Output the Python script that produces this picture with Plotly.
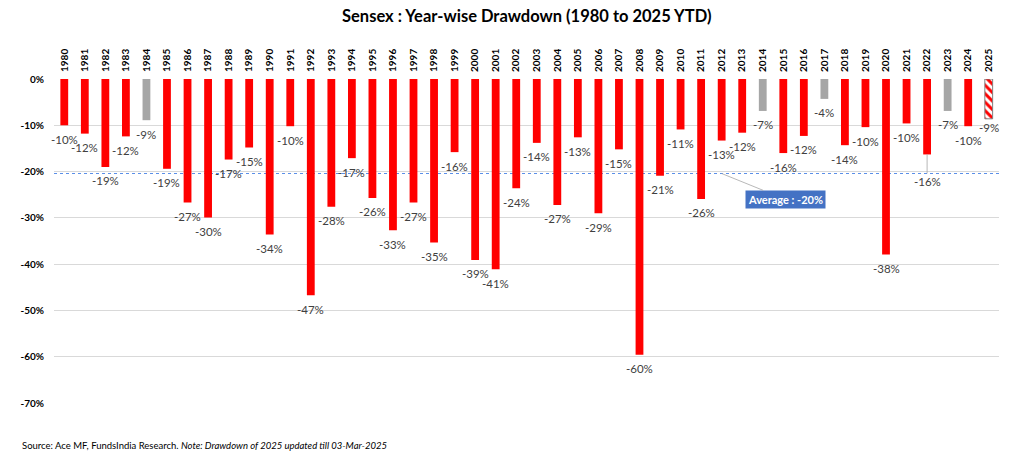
import plotly.graph_objects as go

years = [str(y) for y in range(1980, 2026)]
drawdown = [-10.0, -11.8, -19.0, -12.4, -8.9, -19.4, -26.7, -29.9, -17.4, -14.8,
            -33.6, -10.2, -46.7, -27.6, -17.1, -25.7, -32.7, -26.7, -35.3, -15.8,
            -39.1, -41.1, -23.6, -13.8, -27.2, -12.6, -29.0, -15.2, -59.6, -20.9,
            -10.9, -25.9, -13.3, -11.6, -6.9, -16.0, -12.3, -4.3, -14.3, -10.4,
            -37.9, -9.6, -16.3, -6.9, -10.2, -8.6]
grey_years = ["1984", "2014", "2017", "2023"]
ytd_year = "2025"
y_ticks = [0, -10, -20, -30, -40, -50, -60, -70]
y_ticklabels = ["0%", "-10%", "-20%", "-30%", "-40%", "-50%", "-60%", "-70%"]

RED = "#FF0000"
GREY = "#A6A6A6"
BLUE = "#4472C4"
DASH_BLUE = "#5B8FE8"
FONT = "Lato"

avg = sum(drawdown) / len(drawdown)

colors, shapes_p, lcol, lwid = [], [], [], []
for y in years:
    if y == ytd_year:
        colors.append(RED); shapes_p.append("\\"); lcol.append("#7F7F7F"); lwid.append(1)
    elif y in grey_years:
        colors.append(GREY); shapes_p.append(""); lcol.append(GREY); lwid.append(0)
    else:
        colors.append(RED); shapes_p.append(""); lcol.append(RED); lwid.append(0)

fig = go.Figure()
fig.add_trace(go.Bar(
    x=years, y=drawdown, width=0.38,
    marker=dict(color=colors, line=dict(color=lcol, width=lwid),
                pattern=dict(shape=shapes_p, fillmode="replace", fgcolor=RED,
                             bgcolor="white", size=6, solidity=0.5)),
    hoverinfo="x+y", showlegend=False,
))

annotations = []
for i, (y, v) in enumerate(zip(years, drawdown)):
    txt = f"{round(v):d}%"
    if y == "2022":
        annotations.append(dict(x=i, y=v, xref="x", yref="y", text=txt, showarrow=True,
                                arrowhead=0, arrowwidth=0.8, arrowcolor="#A6A6A6",
                                ax=0, ay=27, standoff=0,
                                font=dict(family=FONT, size=11.5, color="#404040")))
    else:
        annotations.append(dict(x=i, y=v, xref="x", yref="y", text=txt, showarrow=False,
                                yanchor="middle", yshift=-14 if y != ytd_year else -9,
                                font=dict(family=FONT, size=11.5, color="#404040")))

# average call-out: leader starts on the average line near 2012, box sits near 2015
annotations.append(dict(x=years.index("2012"), y=avg, xref="x", yref="y", axref="x", ayref="y",
                        ax=years.index("2015") + 0.1, ay=-26.0,
                        text=f"<b>Average : {round(avg):d}%</b>",
                        showarrow=True, arrowhead=0, arrowwidth=0.8, arrowcolor="#A6A6A6",
                        bgcolor=BLUE, borderpad=2,
                        font=dict(family=FONT, size=11, color="white")))

annotations.append(dict(x=0.5, y=1.0, xref="paper", yref="paper", yanchor="middle",
                        xanchor="center", text="<b>Sensex : Year-wise Drawdown (1980 to 2025 YTD)</b>",
                        showarrow=False, yshift=79 - 16,
                        font=dict(family=FONT, size=16.5, color="black")))
annotations.append(dict(x=0, y=0, xref="paper", yref="paper", xanchor="left", yanchor="middle",
                        xshift=20 - 54, yshift=-(445.5 - 403), showarrow=False,
                        text="Source: Ace MF, FundsIndia Research. <i>Note: Drawdown of 2025 updated till 03-Mar-2025</i>",
                        font=dict(family=FONT, size=9.5, color="black")))

fig.add_shape(type="line", xref="paper", yref="y", x0=0, x1=1, y0=avg, y1=avg,
              layer="below", line=dict(color=DASH_BLUE, width=1.2, dash="3px,3px"))

fig.update_layout(
    width=1024, height=456,
    margin=dict(l=54, r=25, t=79, b=53, autoexpand=False),
    paper_bgcolor="white", plot_bgcolor="white",
    font=dict(family=FONT),
    annotations=annotations,
    xaxis=dict(type="category", categoryorder="array", categoryarray=years,
               range=[-0.5, len(years) - 0.5], autorange=False, automargin=False,
               side="top", tickangle=-90, showgrid=False,
               showline=False, ticks="", ticklabelstandoff=6,
               tickfont=dict(family=FONT, size=10, color="black", weight="bold")),
    yaxis=dict(range=[-70, 0], autorange=False, automargin=False,
               tickvals=y_ticks, ticktext=y_ticklabels,
               showgrid=True, gridcolor="#D9D9D9", gridwidth=1, zeroline=False,
               ticklabelstandoff=9,
               tickfont=dict(family=FONT, size=10, color="black", weight="bold")),
)

fig.write_html("out.html", config={"displayModeBar": False},
               post_script="document.body.style.margin='0';document.body.style.padding='0';")
